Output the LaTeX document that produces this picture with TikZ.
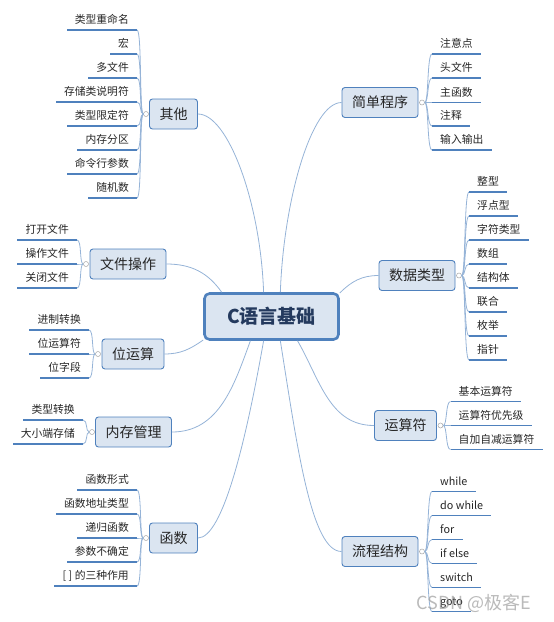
\documentclass[tikz,border=0pt]{standalone}
\usepackage{fontspec}
\setmainfont{Noto Sans CJK SC}
\definecolor{boxfill}{HTML}{DBE5F1}
\definecolor{boxline}{HTML}{4F81BD}
\definecolor{linkline}{HTML}{95B3D7}
\definecolor{rootink}{HTML}{243A5E}
\begin{document}
\begin{tikzpicture}[x=1pt, y=-1pt,
  root/.style={draw=boxline, line width=2.6pt, fill=boxfill, rounded corners=5pt, minimum width=134pt, minimum height=46pt, text=rootink, font=\fontsize{19}{22}\selectfont\bfseries},
  topic/.style={draw=boxline, line width=0.9pt, fill=boxfill, rounded corners=3pt, inner xsep=10pt, minimum height=30pt, text=black!85, font=\fontsize{14}{16}\selectfont},
  item/.style={inner xsep=8pt, inner ysep=4pt, text height=8.5pt, text depth=2pt, text=black!85, font=\fontsize{10.8}{12}\selectfont},
  dot/.style={circle, draw=black!35, fill=white, line width=0.5pt, inner sep=0pt, minimum size=5pt},
  link/.style={draw=linkline, line width=0.8pt},
  ul/.style={draw=boxline, line width=1.4pt},
  brl/.style={out=180, in=0, out distance=4pt, in distance=5pt},
  brr/.style={out=0, in=180, out distance=4pt, in distance=5pt}]
\useasboundingbox (0,0) rectangle (554,622);
\node[root] (root) at (271.5,316.5) {C语言基础};
\node[topic] (qt) at (173.5,114) {其他};
\node[topic] (jd) at (380,102.5) {简单程序};
\node[topic] (sj) at (417,275.5) {数据类型};
\node[topic] (ys) at (405.5,425.5) {运算符};
\node[topic] (lc) at (380,551.5) {流程结构};
\node[topic] (hs) at (173.5,538) {函数};
\node[topic] (nc) at (133.5,432) {内存管理};
\node[topic] (wy) at (133,354) {位运算};
\node[topic] (wj) at (128,264) {文件操作};
\draw[link] (root.108) to[out=92, in=0, out distance=90pt, in distance=30pt] (qt.east);
\draw[link] (root.70) to[out=88, in=180, out distance=92pt, in distance=30pt] (jd.west);
\draw[link] (root.154) to[out=125, in=0] (wj.east);
\draw[link] (root.19) to[out=45, in=180] (sj.west);
\draw[link] (root.199) to[out=215, in=0] (wy.east);
\draw[link] (root.229) to[out=250, in=0] (nc.east);
\draw[link] (root.252) to[out=260, in=0, out distance=100pt, in distance=25pt] (hs.east);
\draw[link] (root.290) to[out=279, in=180, out distance=110pt, in distance=30pt] (lc.west);
\draw[link] (root.317) to[out=300, in=180] (ys.west);
\node[dot] (qtd) at (146,114) {};
\node[dot] (jdd) at (422,102.5) {};
\node[dot] (sjd) at (459,275.5) {};
\node[dot] (ysd) at (440.5,425.5) {};
\node[dot] (lcd) at (422,551.5) {};
\node[dot] (hsd) at (146,538) {};
\node[dot] (ncd) at (92,432) {};
\node[dot] (wyd) at (98,354) {};
\node[dot] (wjd) at (86,264) {};
\node[item, anchor=south east] (qt1) at (137,30) {类型重命名};
\node[item, anchor=south east] (qt2) at (137,54) {宏};
\node[item, anchor=south east] (qt3) at (137,78) {多文件};
\node[item, anchor=south east] (qt4) at (137,102) {存储类说明符};
\node[item, anchor=south east] (qt5) at (137,126) {类型限定符};
\node[item, anchor=south east] (qt6) at (137,150) {内存分区};
\node[item, anchor=south east] (qt7) at (137,174) {命令行参数};
\node[item, anchor=south east] (qt8) at (137,198) {随机数};
\draw[link] (qtd.west) to[brl] (qt1.south east) edge[ul] (qt1.south west);
\draw[link] (qtd.west) to[brl] (qt2.south east) edge[ul] (qt2.south west);
\draw[link] (qtd.west) to[brl] (qt3.south east) edge[ul] (qt3.south west);
\draw[link] (qtd.west) to[brl] (qt4.south east) edge[ul] (qt4.south west);
\draw[link] (qtd.west) to[brl] (qt5.south east) edge[ul] (qt5.south west);
\draw[link] (qtd.west) to[brl] (qt6.south east) edge[ul] (qt6.south west);
\draw[link] (qtd.west) to[brl] (qt7.south east) edge[ul] (qt7.south west);
\draw[link] (qtd.west) to[brl] (qt8.south east) edge[ul] (qt8.south west);
\node[item, anchor=south west] (jd1) at (432,54) {注意点};
\node[item, anchor=south west] (jd2) at (432,78) {头文件};
\node[item, anchor=south west] (jd3) at (432,102.5) {主函数};
\node[item, anchor=south west] (jd4) at (432,126) {注释};
\node[item, anchor=south west] (jd5) at (432,150) {输入输出};
\draw[link] (jdd.east) to[brr] (jd1.south west) edge[ul] (jd1.south east);
\draw[link] (jdd.east) to[brr] (jd2.south west) edge[ul] (jd2.south east);
\draw[link] (jdd.east) to[brr] (jd3.south west) edge[ul] (jd3.south east);
\draw[link] (jdd.east) to[brr] (jd4.south west) edge[ul] (jd4.south east);
\draw[link] (jdd.east) to[brr] (jd5.south west) edge[ul] (jd5.south east);
\node[item, anchor=south west] (sj1) at (469,192) {整型};
\node[item, anchor=south west] (sj2) at (469,216) {浮点型};
\node[item, anchor=south west] (sj3) at (469,240) {字符类型};
\node[item, anchor=south west] (sj4) at (469,264) {数组};
\node[item, anchor=south west] (sj5) at (469,288) {结构体};
\node[item, anchor=south west] (sj6) at (469,312) {联合};
\node[item, anchor=south west] (sj7) at (469,336) {枚举};
\node[item, anchor=south west] (sj8) at (469,360) {指针};
\draw[link] (sjd.east) to[brr] (sj1.south west) edge[ul] (sj1.south east);
\draw[link] (sjd.east) to[brr] (sj2.south west) edge[ul] (sj2.south east);
\draw[link] (sjd.east) to[brr] (sj3.south west) edge[ul] (sj3.south east);
\draw[link] (sjd.east) to[brr] (sj4.south west) edge[ul] (sj4.south east);
\draw[link] (sjd.east) to[brr] (sj5.south west) edge[ul] (sj5.south east);
\draw[link] (sjd.east) to[brr] (sj6.south west) edge[ul] (sj6.south east);
\draw[link] (sjd.east) to[brr] (sj7.south west) edge[ul] (sj7.south east);
\draw[link] (sjd.east) to[brr] (sj8.south west) edge[ul] (sj8.south east);
\node[item, anchor=south west] (ys1) at (450.5,401.5) {基本运算符};
\node[item, anchor=south west] (ys2) at (450.5,425.5) {运算符优先级};
\node[item, anchor=south west] (ys3) at (450.5,449.5) {自加自减运算符};
\draw[link] (ysd.east) to[brr] (ys1.south west) edge[ul] (ys1.south east);
\draw[link] (ysd.east) to[brr] (ys2.south west) edge[ul] (ys2.south east);
\draw[link] (ysd.east) to[brr] (ys3.south west) edge[ul] (ys3.south east);
\node[item, anchor=south west] (lc1) at (432,491.5) {while};
\node[item, anchor=south west] (lc2) at (432,515.5) {do while};
\node[item, anchor=south west] (lc3) at (432,539.5) {for};
\node[item, anchor=south west] (lc4) at (432,563.5) {if else};
\node[item, anchor=south west] (lc5) at (432,587.5) {switch};
\node[item, anchor=south west] (lc6) at (432,611.5) {goto};
\draw[link] (lcd.east) to[brr] (lc1.south west) edge[ul] (lc1.south east);
\draw[link] (lcd.east) to[brr] (lc2.south west) edge[ul] (lc2.south east);
\draw[link] (lcd.east) to[brr] (lc3.south west) edge[ul] (lc3.south east);
\draw[link] (lcd.east) to[brr] (lc4.south west) edge[ul] (lc4.south east);
\draw[link] (lcd.east) to[brr] (lc5.south west) edge[ul] (lc5.south east);
\draw[link] (lcd.east) to[brr] (lc6.south west) edge[ul] (lc6.south east);
\node[item, anchor=south east] (hs1) at (137,490) {函数形式};
\node[item, anchor=south east] (hs2) at (137,514) {函数地址类型};
\node[item, anchor=south east] (hs3) at (137,538) {递归函数};
\node[item, anchor=south east] (hs4) at (137,562) {参数不确定};
\node[item, anchor=south east] (hs5) at (137,586) {[ ] 的三种作用};
\draw[link] (hsd.west) to[brl] (hs1.south east) edge[ul] (hs1.south west);
\draw[link] (hsd.west) to[brl] (hs2.south east) edge[ul] (hs2.south west);
\draw[link] (hsd.west) to[brl] (hs3.south east) edge[ul] (hs3.south west);
\draw[link] (hsd.west) to[brl] (hs4.south east) edge[ul] (hs4.south west);
\draw[link] (hsd.west) to[brl] (hs5.south east) edge[ul] (hs5.south west);
\node[item, anchor=south east] (nc1) at (83,420) {类型转换};
\node[item, anchor=south east] (nc2) at (83,444) {大小端存储};
\draw[link] (ncd.west) to[brl] (nc1.south east) edge[ul] (nc1.south west);
\draw[link] (ncd.west) to[brl] (nc2.south east) edge[ul] (nc2.south west);
\node[item, anchor=south east] (wy1) at (89,330) {进制转换};
\node[item, anchor=south east] (wy2) at (89,354) {位运算符};
\node[item, anchor=south east] (wy3) at (89,378) {位字段};
\draw[link] (wyd.west) to[brl] (wy1.south east) edge[ul] (wy1.south west);
\draw[link] (wyd.west) to[brl] (wy2.south east) edge[ul] (wy2.south west);
\draw[link] (wyd.west) to[brl] (wy3.south east) edge[ul] (wy3.south west);
\node[item, anchor=south east] (wj1) at (77,240) {打开文件};
\node[item, anchor=south east] (wj2) at (77,264) {操作文件};
\node[item, anchor=south east] (wj3) at (77,288) {关闭文件};
\draw[link] (wjd.west) to[brl] (wj1.south east) edge[ul] (wj1.south west);
\draw[link] (wjd.west) to[brl] (wj2.south east) edge[ul] (wj2.south west);
\draw[link] (wjd.west) to[brl] (wj3.south east) edge[ul] (wj3.south west);
\node[anchor=west, text=black!45, opacity=0.6, font=\fontsize{18}{20}\selectfont] (wm) at (413,603) {CSDN @极客E};
\end{tikzpicture}
\end{document}
